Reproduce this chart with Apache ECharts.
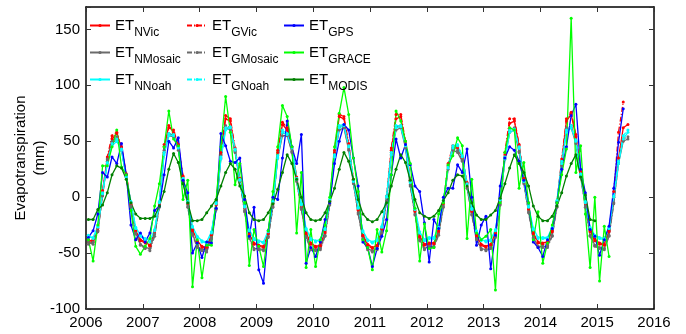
<!DOCTYPE html>
<html>
<head>
<meta charset="utf-8">
<script src="https://cdn.jsdelivr.net/npm/echarts@6/dist/echarts.min.js"></script>
<style>
  html, body { margin: 0; padding: 0; background: #fff; }
  #main { width: 686px; height: 334px; }
</style>
</head>
<body>
<div id="main"></div>
<script>
// monthly values, Jan 2006 onwards (mm)
var nVic = [
  -40,-38,-28,6,34,52,57,44,20,-7,-30,-38,
  -40,-43,-30,-5,45,64,58,46,18,-5,-29,-39,
  -44,-45,-33,-6,38,70,68,42,16,-10,-33,-41,
  -43,-44,-32,-5,40,65,60,44,17,-8,-32,-41,
  -44,-43,-31,-3,40,72,70,46,15,-12,-34,-42,
  -45,-43,-28,0,42,70,72,48,14,-12,-35,-42,
  -41,-41,-30,-5,28,44,44,35,12,-12,-34,-42,
  -44,-42,-32,-3,38,66,68,46,16,-10,-32,-40,
  -41,-40,-30,-4,32,68,74,54,22,-5,-30,-38,
  -41,-42,-30,0,35,62,65
];
var gVic = [
  -38,-40,-30,4,36,55,58,45,21,-6,-31,-39,
  -41,-44,-32,-6,47,62,60,47,19,-6,-30,-40,
  -45,-46,-34,-7,40,73,70,44,17,-9,-34,-42,
  -44,-45,-33,-6,42,67,62,45,18,-9,-33,-42,
  -45,-44,-32,-4,42,74,72,48,16,-11,-35,-43,
  -46,-44,-29,1,44,74,74,50,15,-13,-36,-43,
  -42,-42,-31,-6,30,46,46,36,13,-13,-35,-43,
  -45,-43,-33,-4,40,70,70,47,17,-11,-33,-41,
  -42,-41,-31,-5,34,70,76,56,23,-6,-31,-39,
  -42,-43,-31,5,58,85
];
var nMosaic = [
  -42,-40,-30,2,32,48,52,42,18,-8,-32,-42,
  -45,-46,-33,-8,40,55,54,42,15,-8,-33,-44,
  -47,-47,-36,-10,35,62,60,40,14,-12,-36,-46,
  -46,-47,-35,-8,35,55,55,40,14,-10,-35,-46,
  -47,-46,-34,-6,36,60,62,42,12,-14,-37,-46,
  -48,-46,-31,-3,38,60,62,44,10,-15,-38,-46,
  -44,-44,-33,-8,25,42,40,32,8,-15,-37,-46,
  -47,-45,-35,-6,34,58,60,40,12,-13,-36,-44,
  -44,-44,-34,-8,28,60,62,48,18,-8,-34,-43,
  -45,-46,-34,-5,30,50,52
];
var gMosaic = [
  -40,-42,-31,1,34,50,54,43,19,-9,-33,-43,
  -46,-48,-35,-9,42,57,55,43,16,-9,-34,-45,
  -48,-49,-37,-11,37,64,62,41,15,-13,-37,-47,
  -47,-48,-36,-9,37,58,56,41,15,-11,-36,-47,
  -48,-47,-35,-7,38,63,64,43,13,-15,-38,-47,
  -49,-47,-32,-4,40,63,64,45,11,-16,-39,-47,
  -45,-45,-34,-9,27,44,42,33,9,-16,-38,-47,
  -48,-46,-36,-7,36,61,62,41,13,-14,-37,-45,
  -45,-45,-35,-9,30,62,64,50,19,-9,-35,-44,
  -46,-47,-35,-6,32,52,54
];
var nNoah = [
  -36,-36,-26,4,30,46,50,42,18,-5,-27,-34,
  -37,-39,-29,-4,38,55,55,44,16,-4,-26,-35,
  -39,-40,-31,-5,34,60,62,42,15,-8,-29,-37,
  -39,-40,-30,-4,35,58,56,44,16,-6,-28,-37,
  -39,-38,-28,-2,36,62,64,45,14,-9,-30,-38,
  -40,-38,-26,1,38,62,63,46,13,-10,-31,-38,
  -36,-36,-27,-3,26,44,46,36,11,-10,-30,-38,
  -39,-38,-29,-2,34,58,60,44,14,-8,-28,-36,
  -36,-36,-27,-3,30,58,62,50,20,-4,-27,-34,
  -36,-37,-27,0,30,52,58
];
var gNoah = [
  -34,-37,-27,3,31,48,52,43,19,-4,-28,-35,
  -38,-40,-30,-5,40,57,56,45,17,-5,-27,-36,
  -40,-41,-32,-6,36,62,63,43,16,-9,-30,-38,
  -40,-41,-31,-5,37,60,57,45,17,-7,-29,-38,
  -40,-39,-29,-3,38,64,65,46,15,-10,-31,-39,
  -41,-39,-27,0,40,64,64,47,14,-11,-32,-39,
  -37,-37,-28,-4,28,46,47,37,12,-11,-31,-39,
  -40,-39,-30,-3,36,60,61,45,15,-9,-29,-37,
  -37,-37,-28,-4,32,60,64,51,21,-5,-28,-35,
  -37,-38,-28,1,32,55,60
];
var gps = [
  -36,-30,-15,22,18,36,30,48,20,-25,-38,-32,
  -40,-32,-12,-8,20,50,44,53,15,4,-50,-41,
  -54,-40,-41,-10,57,46,32,31,35,-2,-35,-9,
  -65,-77,-30,0,-2,35,68,45,30,56,-59,-45,
  -53,-40,-20,-5,30,50,65,60,35,10,-40,-45,
  -62,-46,-35,-20,20,52,35,47,29,10,5,-23,
  -58,-20,-28,0,8,8,29,22,43,0,-43,-25,
  -17,-64,-34,10,35,45,42,32,15,-5,-40,-45,
  -53,-38,-28,-5,25,45,73,83,25,4,-29,-35,
  -52,-38,-26,8,49,79
];
var grace = [
  -38,-57,-25,28,28,45,60,27,20,-12,-44,-51,
  -44,-37,-8,12,45,77,52,46,-2,15,-80,-38,
  -72,-43,-43,-2,45,90,58,11,30,-5,-61,-29,
  -44,-62,-30,5,45,82,72,45,-32,22,-63,-29,
  -62,-38,-25,0,45,75,98,74,35,5,-38,-45,
  -65,-29,-49,-30,20,77,68,50,30,-10,-57,-24,
  -46,-45,-15,-5,29,37,53,46,-37,16,-32,-38,
  -35,-29,-83,-5,40,62,60,8,31,-5,-38,-13,
  -59,-41,-25,-5,20,43,160,22,46,-15,-63,0,
  -75,-26,-53
];
var modis = [
  -20,-20,-11,-7,4,20,28,26,16,-5,-15,-19,
  -19,-19,-17,-8,5,25,39,31,12,-5,-21,-21,
  -20,-14,-8,-2,10,22,30,25,10,1,-14,-20,
  -21,-20,-14,-6,7,22,38,30,16,0,-14,-20,
  -21,-20,-14,-4,8,25,40,32,16,-2,-15,-20,
  -22,-20,-13,-5,10,25,38,31,15,-2,-14,-17,
  -19,-17,-12,-3,4,15,20,19,10,-5,-16,-20,
  -20,-16,-12,-1,12,26,38,30,22,10,-8,-17,
  -21,-21,-17,-8,4,19,30,38,18,2,-20,-21
];
var yTicks = [-100, -50, 0, 50, 100, 150];

function monthly(vals) {
    var out = [];
    for (var i = 0; i < vals.length; i++) {
        out.push([2006 + (i + 0.5) / 12, vals[i]]);
    }
    return out;
}

var dashDot = [5, 2, 1, 2];

function mkSeries(name, vals, color, dashed) {
    return {
        name: name,
        type: 'line',
        data: monthly(vals),
        symbol: 'circle',
        symbolSize: 3,
        animation: false,
        lineStyle: { color: color, width: 1.3, type: dashed ? dashDot : 'solid' },
        itemStyle: { color: color }
    };
}

var chart = echarts.init(document.getElementById('main'));

var legendBase = {
    orient: 'vertical',
    top: 18,
    padding: 0,
    itemWidth: 20,
    itemHeight: 4,
    itemGap: 6,
    formatter: function(name) {
        var p = name.split('_');
        return '{a|' + p[0] + '}{b|' + p[1] + '}';
    },
    textStyle: {
        rich: {
            a: { fontSize: 15, fontFamily: 'Liberation Sans', color: '#000' },
            b: { fontSize: 12, fontFamily: 'Liberation Sans', color: '#000', padding: [15, 0, 0, 0] }
        }
    }
};

var option = {
    backgroundColor: '#fff',
    textStyle: { fontFamily: 'Liberation Sans' },
    grid: { left: 86, right: 32, top: 7, bottom: 25, outerBoundsMode: 'none' },
    legend: [
        Object.assign({}, legendBase, { left: 89, data: ['ET_NVic', 'ET_NMosaic', 'ET_NNoah'] }),
        Object.assign({}, legendBase, { left: 186, data: ['ET_GVic', 'ET_GMosaic', 'ET_GNoah'] }),
        Object.assign({}, legendBase, { left: 283, data: ['ET_GPS', 'ET_GRACE', 'ET_MODIS'] })
    ],
    xAxis: [{
        type: 'value', min: 2006, max: 2016, interval: 1,
        axisLine: { onZero: false, lineStyle: { color: '#000', width: 1.5 } },
        axisTick: { inside: true, length: 5, lineStyle: { color: '#333' } },
        axisLabel: { color: '#000', fontSize: 15, margin: 6, formatter: function(v) { return String(v); } },
        splitLine: { show: false }
    }, {
        type: 'value', min: 2006, max: 2016, interval: 1, position: 'top',
        axisLine: { onZero: false, lineStyle: { color: '#000', width: 1.5 } },
        axisTick: { inside: true, length: 5, lineStyle: { color: '#333' } },
        axisLabel: { show: false },
        splitLine: { show: false }
    }],
    yAxis: [{
        type: 'value', min: -100, max: 170, interval: 50,
        name: 'Evapotranspiration\n(mm)',
        nameLocation: 'middle',
        nameGap: 37,
        nameMoveOverlap: false,
        nameTextStyle: { fontSize: 15, color: '#000', lineHeight: 19 },
        axisLine: { onZero: false, lineStyle: { color: '#000', width: 1.5 } },
        axisTick: { inside: true, length: 5, lineStyle: { color: '#333' } },
        axisLabel: {
            color: '#000', fontSize: 15, margin: 6,
            formatter: function(v) { return yTicks.indexOf(v) >= 0 ? String(v) : ''; }
        },
        splitLine: { show: false }
    }, {
        type: 'value', min: -100, max: 170, interval: 50, position: 'right',
        axisLine: { show: true, onZero: false, lineStyle: { color: '#000', width: 1.5 } },
        axisTick: { show: true, inside: true, length: 5, lineStyle: { color: '#333' } },
        axisLabel: { show: false },
        splitLine: { show: false }
    }],
    series: [
        mkSeries('ET_NVic', nVic, '#ff0000', false),
        mkSeries('ET_GVic', gVic, '#ff0000', true),
        mkSeries('ET_NMosaic', nMosaic, '#6b6b6b', false),
        mkSeries('ET_GMosaic', gMosaic, '#6b6b6b', true),
        mkSeries('ET_NNoah', nNoah, '#00ffff', false),
        mkSeries('ET_GNoah', gNoah, '#00ffff', true),
        mkSeries('ET_GPS', gps, '#0000ff', false),
        mkSeries('ET_GRACE', grace, '#00ff00', false),
        mkSeries('ET_MODIS', modis, '#008000', false)
    ]
};

chart.setOption(option);
</script>
</body>
</html>
